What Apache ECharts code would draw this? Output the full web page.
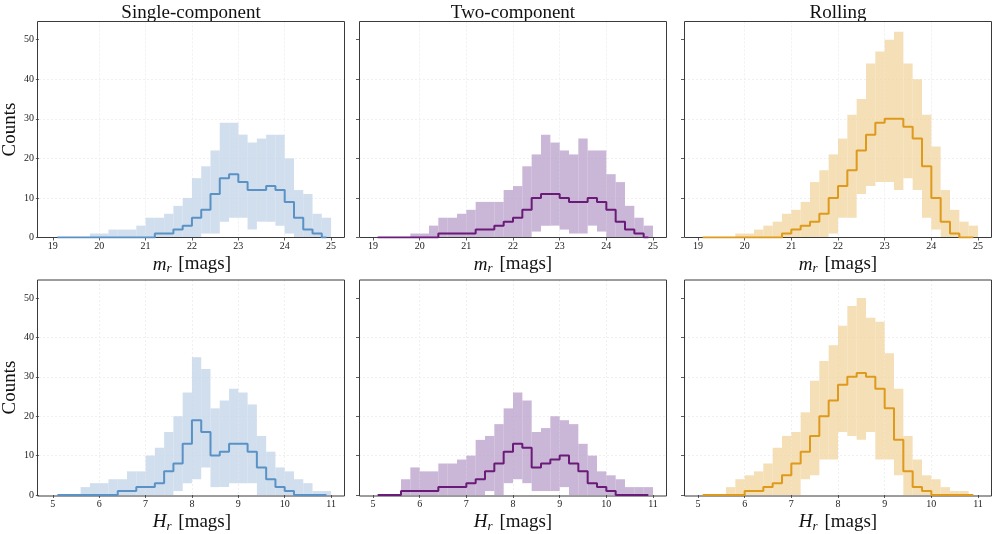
<!DOCTYPE html>
<html><head><meta charset="utf-8">
<script src="https://cdn.jsdelivr.net/npm/echarts@6/dist/echarts.min.js"></script>
<style>html,body{margin:0;padding:0;background:#fff}#c{width:997px;height:534px}</style>
</head><body><div id="c"></div>
<script>
// ---- data ----
const mrEdges = [19.0,19.2,19.4,19.6,19.8,20.0,20.2,20.4,20.6,20.8,21.0,21.2,21.4,21.6,21.8,22.0,22.2,22.4,22.6,22.8,23.0,23.2,23.4,23.6,23.8,24.0,24.2,24.4,24.6,24.8,25.0];
const hrEdges = [5.0,5.2,5.4,5.6,5.8,6.0,6.2,6.4,6.6,6.8,7.0,7.2,7.4,7.6,7.8,8.0,8.2,8.4,8.6,8.8,9.0,9.2,9.4,9.6,9.8,10.0,10.2,10.4,10.6,10.8,11.0];
const mrTicks = [19,20,21,22,23,24,25];
const hrTicks = [5,6,7,8,9,10,11];
const countTicks = [0,10,20,30,40,50];
const titles = ['Single-component','Two-component','Rolling'];

const singleMrHigh   = [0,0,0,0,1,1,2,2,2,3,5,5,6,8,10,15,18,22,29,29,26,24,25,26,26,20,12,11,6,5];
const singleMrLow    = [0,0,0,0,0,0,0,0,0,0,0,0,0,0,0,0,1,1,4,5,5,2,4,4,3,1,0,0,0,0];
const singleMrMedian = [0,0,0,0,0,0,0,0,0,0,0,1,1,2,3,5,7,11,15,16,14,12,12,13,12,9,5,2,1,0];

const twoMrHigh   = [0,0,0,0,1,1,3,5,5,6,7,9,9,9,12,13,18,21,26,24,22,21,25,22,22,16,14,8,5,3];
const twoMrLow    = [0,0,0,0,0,0,0,0,0,0,0,0,0,0,0,0,0,1.5,3,3,2,1,1,3,1.5,0,0,0,0,0];
const twoMrMedian = [0,0,0,0,0,0,0,1,1,1,1,2,2,3,4,5,7,10,11,11,10,9,9,10,9,7,4,2,1,0];

const rollMrHigh   = [0,0,0,0,1,1,2,3,4,6,7,9,14,17,21,25,31,35,44,47,50,52,44,40,31,23,12,7,4,3];
const rollMrLow    = [0,0,0,0,0,0,0,0,0,0,0,0,0,0,1,5,5,11,13,14,14,12,15,12,5,2,0,0,0,0];
const rollMrMedian = [0,0,0,0,0,0,0,0,0,1,2,3,4,6,10,13,17,22,26,29,30,30,28,25,18,10,4,1,0,0];

const singleHrHigh   = [0,0,0,2,3,3,4,4,6,6,10,12,16,20,26,35,32,22,24,27,26,23,15,11,7,6,4,3,1,1];
const singleHrLow    = [0,0,0,0,0,0,0,0,0,0,0,0,0,1,3,4,7,2,2,3,3,3,0,0,0,0,0,0,0,0];
const singleHrMedian = [0,0,0,0,0,0,0,1,1,2,2,3,6,8,13,19,16,10,11,13,13,11,7,4,2,1,0,0,0,0];

const twoHrHigh   = [0,0,0,4,7,6,6,8,8,9,10,14,15,18,22,26,24,16,17,20,19,18,13,10,6,5,4,2,2,2];
const twoHrLow    = [0,0,0,0,0,0,0,0,0,0,0,0,1,0,3,4,3,1,1,1,2,0,0,0,0,0,0,0,0,0];
const twoHrMedian = [0,0,0,1,1,1,1,2,2,2,3,4,6,8,11,13,12,7,8,9,10,8,6,3,2,1,0,0,0,0];

const rollHrHigh   = [0,0,0,2,4,5,6,8,12,15,16,21,29,34,38,43,48,50,45,44,36,27,15,9,5,4,2,1,1,0];
const rollHrLow    = [0,0,0,0,0,0,0,0,0,0,0,4,5,9,9,16,15,14,16,9,9,5,0,0,0,0,0,0,0,0];
const rollHrMedian = [0,0,0,0,0,1,1,2,3,5,8,11,15,20,24,28,30,31,30,27,22,14,6,2,1,0,0,0,0,0];

// ---- styling ----
const FONT = 'Liberation Serif';
const lineColors = ['#5b92c6', '#6a1b78', '#dd9a1c'];
const bandColors = ['rgba(196,214,233,0.8)', 'rgba(184,158,200,0.75)', 'rgba(241,210,152,0.7)'];
const colLeft = [37, 359, 684];
const colWidth = 308;
const rowTop = [21.5, 280];
const rowHeight = 216;

const panels = [
  {row:0,col:0,edges:mrEdges,hi:singleMrHigh,lo:singleMrLow,med:singleMrMedian},
  {row:0,col:1,edges:mrEdges,hi:twoMrHigh,lo:twoMrLow,med:twoMrMedian},
  {row:0,col:2,edges:mrEdges,hi:rollMrHigh,lo:rollMrLow,med:rollMrMedian},
  {row:1,col:0,edges:hrEdges,hi:singleHrHigh,lo:singleHrLow,med:singleHrMedian},
  {row:1,col:1,edges:hrEdges,hi:twoHrHigh,lo:twoHrLow,med:twoHrMedian},
  {row:1,col:2,edges:hrEdges,hi:rollHrHigh,lo:rollHrLow,med:rollHrMedian}
];

const grid = [], xAxis = [], yAxis = [], series = [], graphic = [];
const tickStyle = {show:true, length:3, inside:false, lineStyle:{color:'#333', width:0.8}};
const splitStyle = {show:true, showMinLine:false, showMaxLine:false, lineStyle:{color:'#ececec', width:0.8, type:[2,2]}};

panels.forEach((p, k) => {
  grid.push({left: colLeft[p.col], top: rowTop[p.row], width: colWidth, height: rowHeight, show:false});
  const isM = p.row === 0;
  const ticks = isM ? mrTicks : hrTicks;
  const span = ticks[ticks.length-1] - ticks[0];
  xAxis.push({type:'value', gridIndex:k,
    min: ticks[0] - 0.05*span, max: ticks[ticks.length-1] + 0.05*span,
    minInterval:1, maxInterval:1,
    axisLine:{show:false},
    axisTick:Object.assign({customValues: ticks}, tickStyle),
    axisLabel:{customValues: ticks, fontFamily:FONT, fontSize:10, color:'#222', margin:4},
    splitLine:splitStyle,
    name: isM ? '{it|m}{sub|r} [mags]' : '{it|H}{sub|r} [mags]',
    nameLocation:'middle', nameGap:16,
    nameTextStyle:{fontFamily:FONT, fontSize:19, color:'#111',
      rich:{it:{fontFamily:FONT, fontStyle:'italic', fontSize:19, color:'#111'},
            sub:{fontFamily:FONT, fontStyle:'italic', fontSize:13, color:'#111', padding:[9,2,0,0]}}}
  });
  yAxis.push({type:'value', gridIndex:k, min:0, max:54.6, interval:10,
    axisLine:{show:false},
    axisTick:Object.assign({customValues: countTicks}, tickStyle),
    axisLabel:{show: p.col === 0, customValues: countTicks, fontFamily:FONT, fontSize:10, color:'#222', margin:5},
    splitLine:splitStyle,
    name: p.col === 0 ? 'Counts' : '', nameLocation:'middle', nameGap:14,
    nameTextStyle:{fontFamily:FONT, fontSize:19, color:'#111'}
  });
  const bandData = p.hi.map((h, i) => [p.edges[i], p.edges[i+1], p.lo[i], h]);
  const bandColor = bandColors[p.col];
  series.push({type:'custom', xAxisIndex:k, yAxisIndex:k, z:2, silent:true,
    encode:{x:[0,1], y:[2,3]}, data:bandData,
    renderItem:(params, api) => {
      const x0 = api.value(0), x1 = api.value(1), lo = api.value(2), hi = api.value(3);
      if (!(hi > lo)) return null;
      const a = api.coord([x0, hi]), b = api.coord([x1, lo]);
      return {type:'rect', shape:{x:a[0], y:a[1], width:b[0]-a[0], height:b[1]-a[1]},
        style:{fill: bandColor}};
    }
  });
  const lineData = p.med.map((v, i) => [(p.edges[i] + p.edges[i+1]) / 2, v]);
  series.push({type:'line', xAxisIndex:k, yAxisIndex:k, z:8, step:'middle', symbol:'none', silent:true,
    data: lineData, lineStyle:{color: lineColors[p.col], width:2}, itemStyle:{color: lineColors[p.col]}});
  // axes frame (spines): above the band, below the median line
  graphic.push({type:'rect', z:5, silent:true,
    shape:{x: colLeft[p.col] + 0.5, y: rowTop[p.row], width: colWidth - 1, height: rowHeight},
    style:{fill:'none', stroke:'#3a3a3a', lineWidth:1}});
});

titles.forEach((t, c) => {
  graphic.push({type:'text', x: colLeft[c] + colWidth/2, y: 4,
    style:{text: t, fontFamily: FONT, fontSize: 19, fill:'#111', textAlign:'center'}});
});

const chart = echarts.init(document.getElementById('c'), null, {renderer:'canvas'});
chart.setOption({animation:false, backgroundColor:'#fff', grid, xAxis, yAxis, series, graphic});
</script></body></html>
